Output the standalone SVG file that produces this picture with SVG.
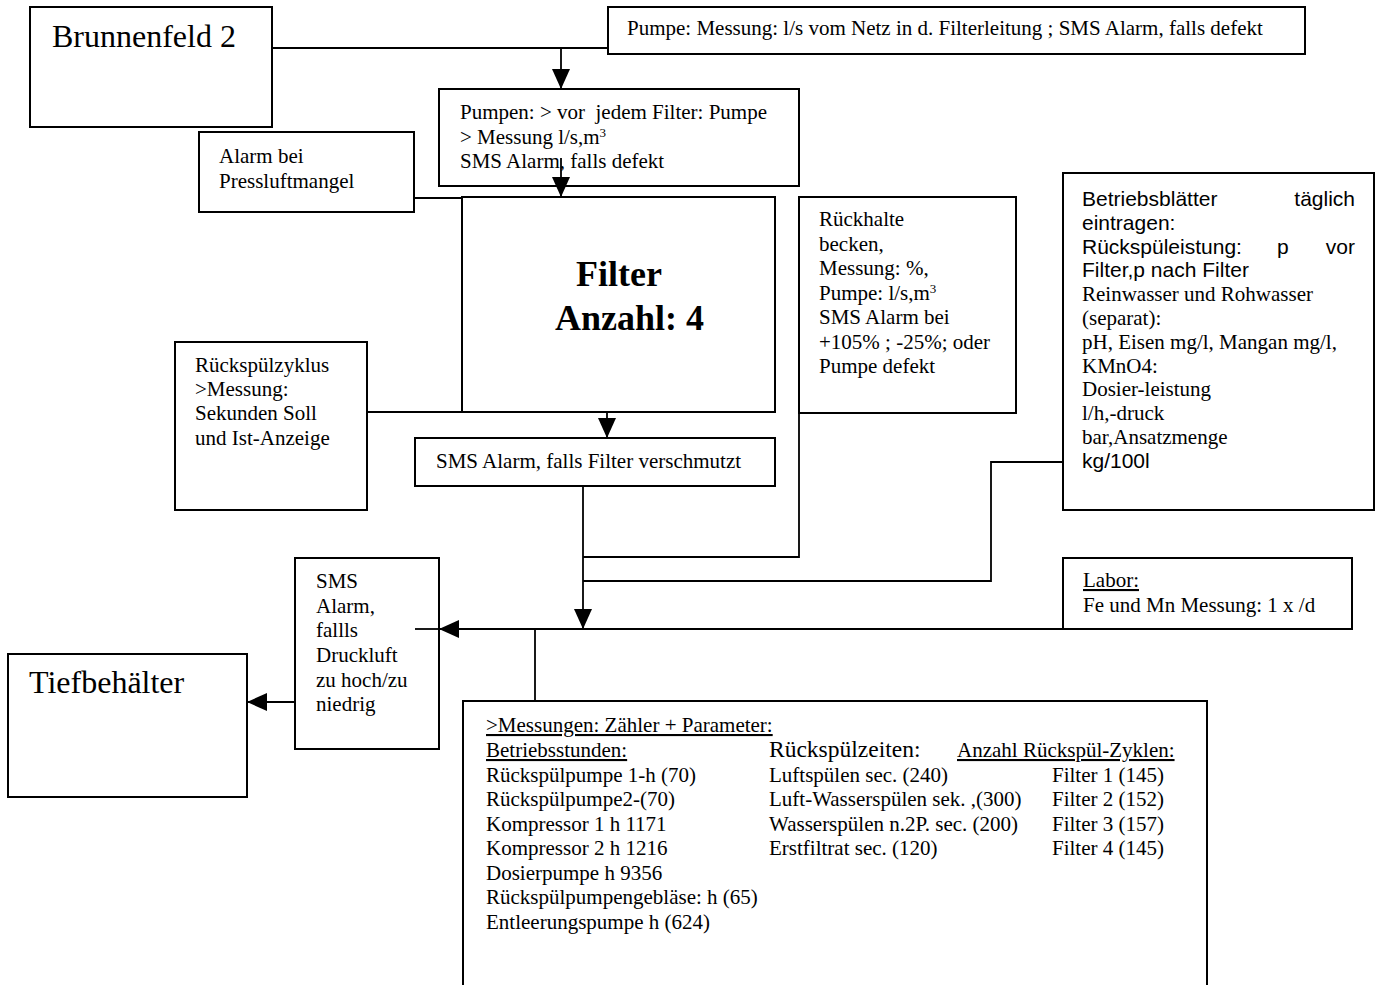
<svg xmlns="http://www.w3.org/2000/svg" width="1382" height="985" viewBox="0 0 1382 985">
<defs>
<marker id="ah" viewBox="0 0 20 18" refX="20" refY="9" markerWidth="20" markerHeight="18" markerUnits="userSpaceOnUse" orient="auto">
<path d="M0,0 L20,9 L0,18 z" fill="#000"/>
</marker>
</defs>
<style>
.bx{fill:#fff;stroke:#000;stroke-width:2}
.t{font-family:"Liberation Serif","Times New Roman",serif;font-size:21px;fill:#000}
.a{font-family:"Liberation Sans",Arial,sans-serif;font-size:21px;fill:#000}
.big{font-family:"Liberation Serif","Times New Roman",serif;font-size:32px;fill:#000}
.fb{font-family:"Liberation Serif","Times New Roman",serif;font-size:36px;font-weight:bold;fill:#000}
.u{text-decoration:underline}
.ln{fill:none;stroke:#000;stroke-width:1.8}
.sup{font-size:13px}
</style>
<rect width="1382" height="985" fill="#fff"/>

<g id="connectors">
<path class="ln" d="M272,48 H608"/>
<path class="ln" d="M561,48 V89" marker-end="url(#ah)"/>
<path class="ln" d="M414,198 H462"/>
<path class="ln" d="M367,412 H462"/>
<path class="ln" d="M607,412 V438" marker-end="url(#ah)"/>
<path class="ln" d="M583,486 V629" marker-end="url(#ah)"/>
<path class="ln" d="M799,413 V557 H583"/>
<path class="ln" d="M1063,462 H991 V581 H583"/>
<path class="ln" d="M1063,629 H439" marker-end="url(#ah)"/>
<path class="ln" d="M535,629 V701"/>
<path class="ln" d="M295,702 H247" marker-end="url(#ah)"/>
</g>

<g id="brunnenfeld">
<rect class="bx" x="30" y="7" width="242" height="120"/>
<text class="big" x="52" y="47">Brunnenfeld 2</text>
</g>

<g id="pumpe-netz">
<rect class="bx" x="608" y="7" width="697" height="47"/>
<text class="t" x="627" y="35">Pumpe: Messung: l/s vom Netz in d. Filterleitung ; SMS Alarm, falls defekt</text>
</g>

<g id="pumpen">
<rect class="bx" x="439" y="89" width="360" height="97"/>
<text class="t" x="460" y="119" xml:space="preserve">Pumpen: &gt; vor  jedem Filter: Pumpe</text>
<text class="t" x="460" y="143.5">&gt; Messung l/s,m<tspan class="sup" baseline-shift="super">3</tspan></text>
<text class="t" x="460" y="168">SMS Alarm, falls defekt</text>
</g>

<g id="connectors-2">
<path class="ln" d="M561,158 V197" marker-end="url(#ah)"/>
</g>

<g id="alarm-pressluft">
<rect class="bx" x="199" y="132" width="215" height="80"/>
<text class="t" x="219" y="163">Alarm bei</text>
<text class="t" x="219" y="188">Pressluftmangel</text>
</g>

<g id="filter">
<rect class="bx" x="462" y="197" width="313" height="215"/>
<text class="fb" x="576" y="286">Filter</text>
<text class="fb" x="555" y="330">Anzahl: 4</text>
</g>

<g id="rueckhalte">
<rect class="bx" x="799" y="197" width="217" height="216"/>
<text class="t" x="819" y="226">Rückhalte</text>
<text class="t" x="819" y="250.5">becken,</text>
<text class="t" x="819" y="275">Messung: %,</text>
<text class="t" x="819" y="299.5">Pumpe: l/s,m<tspan class="sup" baseline-shift="super">3</tspan></text>
<text class="t" x="819" y="324">SMS Alarm bei</text>
<text class="t" x="819" y="348.5">+105% ; -25%; oder</text>
<text class="t" x="819" y="373">Pumpe defekt</text>
</g>

<g id="betriebsblaetter">
<rect class="bx" x="1063" y="173" width="311" height="337"/>
<text class="a" x="1082" y="206">Betriebsblätter</text>
<text class="a" x="1355" y="206" text-anchor="end">täglich</text>
<text class="a" x="1082" y="229.8">eintragen:</text>
<text class="a" x="1082" y="253.6">Rückspüleistung:</text>
<text class="a" x="1277" y="253.6">p</text>
<text class="a" x="1355" y="253.6" text-anchor="end">vor</text>
<text class="a" x="1082" y="277.4">Filter,p nach Filter</text>
<text class="t" x="1082" y="301.2">Reinwasser und Rohwasser</text>
<text class="t" x="1082" y="325">(separat):</text>
<text class="t" x="1082" y="348.8">pH, Eisen mg/l, Mangan mg/l,</text>
<text class="t" x="1082" y="372.6">KMnO4:</text>
<text class="t" x="1082" y="396.4">Dosier-leistung</text>
<text class="t" x="1082" y="420.2">l/h,-druck</text>
<text class="t" x="1082" y="444">bar,Ansatzmenge</text>
<text class="a" x="1082" y="467.8">kg/100l</text>
</g>

<g id="rueckspuelzyklus">
<rect class="bx" x="175" y="342" width="192" height="168"/>
<text class="t" x="195" y="372">Rückspülzyklus</text>
<text class="t" x="195" y="396">&gt;Messung:</text>
<text class="t" x="195" y="420">Sekunden Soll</text>
<text class="t" x="195" y="445">und Ist-Anzeige</text>
</g>

<g id="sms-verschmutzt">
<rect class="bx" x="415" y="438" width="360" height="48"/>
<text class="t" x="436" y="468">SMS Alarm, falls Filter verschmutzt</text>
</g>

<g id="labor">
<rect class="bx" x="1063" y="558" width="289" height="71"/>
<text class="t u" x="1083" y="587">Labor:</text>
<text class="t" x="1083" y="612">Fe und Mn Messung: 1 x /d</text>
</g>

<g id="sms-druckluft">
<rect class="bx" x="295" y="558" width="144" height="191"/>
<text class="t" x="316" y="588">SMS</text>
<text class="t" x="316" y="613">Alarm,</text>
<text class="t" x="316" y="637">fallls</text>
<text class="t" x="316" y="662">Druckluft</text>
<text class="t" x="316" y="687">zu hoch/zu</text>
<text class="t" x="316" y="711">niedrig</text>
</g>

<g id="connectors-3">
<path class="ln" d="M439,629 H415"/>
</g>

<g id="tiefbehaelter">
<rect class="bx" x="8" y="654" width="239" height="143"/>
<text class="big" x="29" y="693">Tiefbehälter</text>
</g>

<g id="messungen">
<path class="bx" d="M463,1000 V701 H1207 V1000"/>
<text class="t u" x="486" y="732">&gt;Messungen: Zähler + Parameter:</text>
<text class="t u" x="486" y="757">Betriebsstunden:</text>
<text class="t" x="769" y="757" style="font-size:23.5px">Rückspülzeiten:</text>
<text class="t u" x="957" y="757">Anzahl Rückspül-Zyklen:</text>
<text class="t" x="486" y="782">Rückspülpumpe 1-h (70)</text>
<text class="t" x="486" y="806">Rückspülpumpe2-(70)</text>
<text class="t" x="486" y="831">Kompressor 1 h 1171</text>
<text class="t" x="486" y="855">Kompressor 2 h 1216</text>
<text class="t" x="486" y="880">Dosierpumpe h 9356</text>
<text class="t" x="486" y="904">Rückspülpumpengebläse: h (65)</text>
<text class="t" x="486" y="929">Entleerungspumpe h (624)</text>
<text class="t" x="769" y="782">Luftspülen sec. (240)</text>
<text class="t" x="769" y="806">Luft-Wasserspülen sek. ,(300)</text>
<text class="t" x="769" y="831">Wasserspülen n.2P. sec. (200)</text>
<text class="t" x="769" y="855">Erstfiltrat sec. (120)</text>
<text class="t" x="1052" y="782">Filter 1 (145)</text>
<text class="t" x="1052" y="806">Filter 2 (152)</text>
<text class="t" x="1052" y="831">Filter 3 (157)</text>
<text class="t" x="1052" y="855">Filter 4 (145)</text>
</g>
</svg>
